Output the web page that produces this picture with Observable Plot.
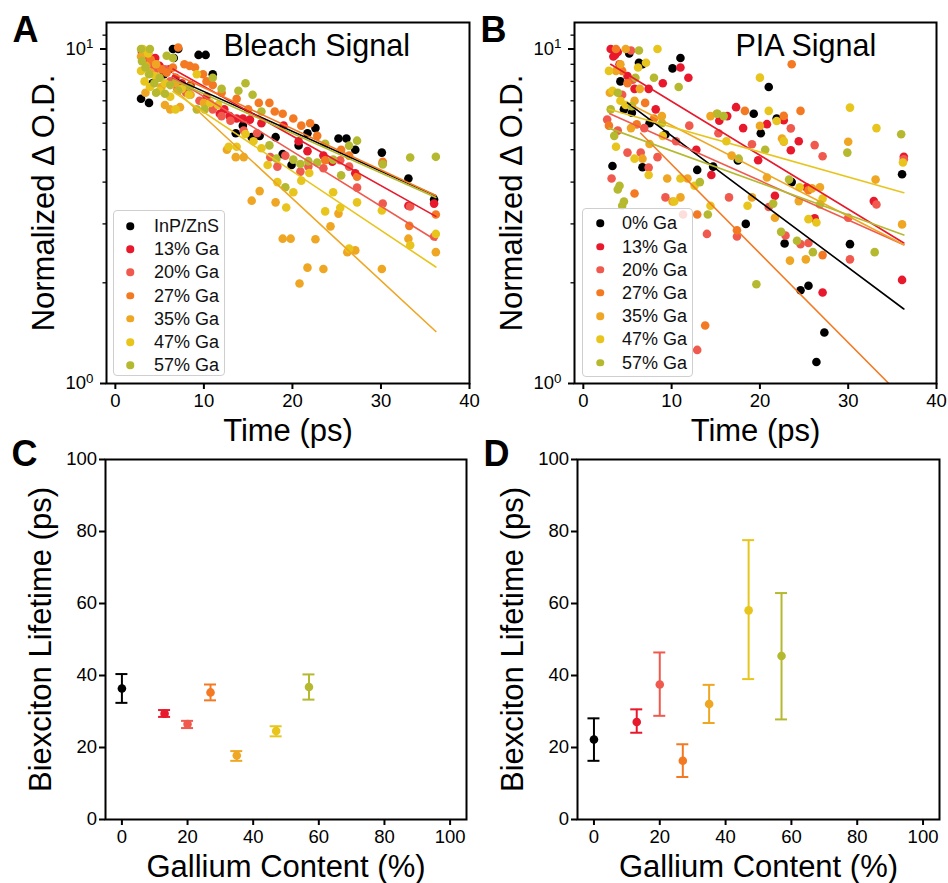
<!DOCTYPE html>
<html>
<head>
<meta charset="utf-8">
<script src="https://cdn.jsdelivr.net/npm/d3@7"></script>
<script src="https://cdn.jsdelivr.net/npm/@observablehq/plot@0.6"></script>
<style>
  html, body { margin: 0; padding: 0; background: #fff; }
  #fig { position: relative; width: 948px; height: 883px; overflow: hidden; background: #fff;
         font-family: "Liberation Sans", Arial, Helvetica, sans-serif; }
  .panel { position: absolute; }
  .legend { position: absolute; background: rgba(255,255,255,0.8); border: 1px solid #cfcfcf;
            border-radius: 4px; box-sizing: border-box; }
  .legend .mk { position: absolute; width: 7.5px; height: 7.5px; border-radius: 50%; transform: translate(-50%, -50%); }
  .legend .lb { position: absolute; font-size: 18px; line-height: 18px; color: #111; transform: translateY(-52%); white-space: nowrap; }
</style>
</head>
<body>
<div id="fig"></div>
<script>
// ---------- categories, colours, tick labels ----------
const namesA = ["InP/ZnS", "13% Ga", "20% Ga", "27% Ga", "35% Ga", "47% Ga", "57% Ga"];
const namesB = ["0% Ga", "13% Ga", "20% Ga", "27% Ga", "35% Ga", "47% Ga", "57% Ga"];
const colors = ["#000000", "#e8192c", "#f05a4e", "#f37a23", "#eea623", "#e8c51d", "#b5b92f"];
const gallium = [0, 13, 20, 27, 35, 47, 57];
const timeTicks = [0, 10, 20, 30, 40];
const logMajor = [1, 10];
const logMinor = [2, 3, 4, 5, 6, 7, 8, 9, 11];
const logLabels = ["10⁰", "10¹"];
const galliumTicks = [0, 20, 40, 60, 80, 100];
const lifetimeTicks = [0, 20, 40, 60, 80, 100];

// ---------- Panel A: bleach signal [time ps, normalized dOD] ----------
const bleach0 = [[2.9,7.1],[3.8,6.9],[4.2,7.9],[5.5,8.4],[6.5,10],[6.6,9.4],[7.1,10],[9.4,9.6],[10.2,9.6],[11,8.4],[13.6,5.6],[14.4,5.9],[15.4,5.45],[16.3,5.5],[18.1,5.45],[18.9,4.85],[19.9,4.5],[20.7,5.15],[21.7,5.6],[22.6,5.8],[25.2,5.4],[26.1,5.4],[27.1,5.0],[30.1,4.9],[33.1,4.1],[36,3.55]];
const bleach13 = [[3.0,9.8],[3.3,9.4],[3.7,9.7],[4.1,9.1],[4.5,9.4],[5.0,8.9],[5.5,8.6],[6.1,8.7],[6.8,8.2],[7.5,7.9],[8.5,7.8],[10.3,7.2],[11.8,6.4],[12.3,6.6],[12.9,6.3],[13.7,6.2],[14.4,6.2],[15.2,6.15],[16.5,6.0],[19.0,5.9],[20.7,5.3],[21.7,4.95],[23.5,4.8],[24.5,4.6],[27.1,4.25],[30.2,4.55],[33.1,3.4],[36,3.45]];
const bleach20 = [[3.1,9.9],[3.5,9.5],[4.0,9.0],[4.4,8.6],[4.9,8.2],[5.6,8.7],[6.2,8.0],[7.0,7.6],[8.0,7.4],[9.5,7.0],[11.0,6.6],[12.0,6.3],[13.0,6.1],[14.5,5.7],[16.0,5.6],[17.5,4.75],[18.3,4.45],[19.2,4.8],[20.9,4.3],[21.8,4.45],[23.5,4.4],[25.4,4.65],[26.4,4.45],[27.3,3.85],[30.2,3.45],[33.3,3.38],[36,2.75]];
const bleach27 = [[3.3,9.7],[4.0,9.3],[4.6,9.0],[5.2,8.7],[5.8,8.5],[6.5,8.8],[7.1,10.1],[7.8,9.0],[8.4,8.9],[9.0,8.8],[9.9,8.4],[10.3,8.0],[11,7.8],[12,7.4],[13.7,7.1],[15,6.6],[16.2,6.9],[17.4,6.9],[18,6.5],[18.9,6.4],[20.1,6.2],[21,5.9],[22,6.0],[22.8,5.5],[23.7,4.65],[25.5,5.0],[26.4,4.8],[27.3,4.15],[30.2,4.6],[33.2,2.96],[36.2,3.2]];
const bleach35 = [[2.9,9.5],[3.4,7.4],[3.5,8.9],[4.0,8.5],[4.6,9.0],[5.2,7.7],[5.6,6.8],[6.2,6.6],[6.8,7.9],[7.3,6.7],[8.5,7.3],[10.0,6.9],[12.6,5.0],[13.6,4.75],[14.5,4.75],[15.4,3.52],[16.3,3.76],[18.1,3.48],[18.9,2.71],[19.8,2.71],[20.8,1.99],[21.7,2.22],[22.6,2.7],[23.5,2.2],[24.3,2.95],[25.2,3.22],[26.2,2.47],[27.1,2.5],[30.1,2.2],[33.1,2.71],[36.2,2.47]];
const bleach47 = [[3.1,10],[3.7,9.7],[2.9,8.6],[3.3,8.0],[3.9,7.7],[4.5,8.3],[5.0,7.5],[5.6,7.9],[6.2,7.2],[6.8,6.6],[7.5,7.6],[8.3,7.3],[9.2,8.4],[10.7,6.9],[11.6,6.8],[12.8,5.1],[13.7,5.1],[14.7,5.57],[15.6,5.3],[16.5,5.05],[17.2,4.5],[18.3,4.0],[19.3,3.36],[20.1,3.73],[21,4.04],[21.9,4.26],[23.7,3.27],[24.6,3.73],[25.4,3.35],[26.4,2.53],[27.3,3.48],[30.1,3.29],[33.3,2.59],[36.2,2.8]];
const bleach57 = [[2.9,10],[3.9,10],[3.0,9.2],[3.4,8.8],[3.8,8.4],[4.4,7.9],[4.6,7.4],[5.0,8.2],[5.6,7.35],[5.8,9.55],[6.2,7.8],[6.5,9.4],[7.1,7.5],[8.4,7.7],[9.2,6.6],[10.1,6.6],[11,8.2],[12,7.6],[13.9,7.5],[14.7,7.9],[15.5,7.3],[16.5,6.5],[17.4,5.15],[18.2,4.7],[19.2,3.86],[20.1,4.67],[20.9,4.53],[21.8,4.62],[22.8,4.58],[23.7,5.21],[24.6,4.67],[25.5,4.19],[26.4,5.14],[27.3,5.32],[30.2,4.52],[33.3,4.74],[36.2,4.76]];
// single-exponential fit lines: start / end points
const bleachFitT0 = [6.5, 6.5, 6.5, 6.5, 6.5, 6.5, 6.5];
const bleachFitV0 = [8.21, 8.71, 8.22, 8.46, 7.66, 7.46, 8.08];
const bleachFitT1 = [36.2, 36.2, 36.2, 36.2, 36.2, 36.2, 36.2];
const bleachFitV1 = [3.64, 3.16, 2.68, 3.65, 1.43, 2.23, 3.6];

// ---------- Panel B: PIA signal ----------
const pia0 = [[3.3,4.47],[4.2,8.0],[4.6,6.6],[5.2,9.7],[5.5,6.45],[6.3,9.1],[6.7,9.0],[6.7,4.43],[7.5,6.0],[9.3,5.55],[10.1,8.75],[11.0,9.4],[12.9,4.35],[14.7,4.45],[17.5,4.64],[18.4,3.0],[19.3,6.4],[20.1,5.6],[21.0,7.7],[21.9,6.2],[22.8,2.62],[23.6,4.0],[24.6,1.9],[25.5,1.96],[26.4,1.16],[27.3,1.42],[30.2,2.61],[36.1,4.22]];
const pia13 = [[3.1,10],[3.4,9.5],[3.6,9.6],[3.9,9.8],[4.1,9.0],[5.0,8.3],[5.8,7.6],[7.4,7.6],[8.2,6.6],[9.0,7.9],[11,8.8],[11.9,8.2],[12.8,5.0],[14.5,4.2],[15.4,6.1],[16.3,6.3],[17.3,6.7],[18.1,5.8],[19.8,4.65],[20.8,5.96],[21.7,3.64],[22.7,6.12],[23.5,4.98],[24.4,5.3],[25.3,3.85],[26.2,3.12],[27.1,1.87],[32.9,3.51],[36.1,2.04],[36.3,4.76]];
const pia20 = [[2.7,6.15],[3.2,4.1],[3.9,5.7],[4.4,7.3],[5.0,4.9],[5.4,9.9],[5.6,8.1],[6.5,4.9],[6.9,5.8],[7.4,4.42],[8.4,4.75],[9.3,3.6],[10.5,5.3],[11.3,3.2],[12.0,5.9],[12.9,1.26],[14.0,2.8],[15.3,5.6],[16.5,3.6],[17.4,2.75],[19.1,5.19],[21.0,3.37],[22.9,2.77],[23.5,5.79],[24.6,2.61],[25.5,2.63],[26.2,5.16],[27.1,4.78],[30.0,3.13],[30.2,2.35],[33.2,3.43],[36.3,4.68]];
const pia27 = [[2.9,5.9],[3.7,10],[4.4,8.6],[5.0,7.9],[5.8,3.7],[6.05,5.95],[7.0,6.9],[8.0,6.2],[12.9,3.2],[13.8,1.49],[17.4,2.87],[18.3,6.53],[22.7,6.31],[23.6,9.0],[24.6,6.53],[25.5,3.78],[27.1,2.42]];
const pia35 = [[3.0,7.4],[3.7,8.6],[4.2,9.0],[4.8,10],[5.4,5.8],[5.8,7.0],[6.4,7.6],[6.7,4.7],[7.5,5.2],[8.9,6.3],[9.5,4.1],[10.1,3.5],[11.0,3.6],[11.8,4.1],[14.4,6.3],[15.1,6.4],[16.8,4.8],[19.1,3.6],[20.0,5.89],[20.8,4.13],[21.7,3.13],[22.5,5.4],[22.7,5.28],[23.4,2.33],[24.4,3.51],[25.2,2.35],[25.9,3.83],[26.8,3.86],[30.0,5.28],[33.1,4.07],[36.1,2.99]];
const pia47 = [[2.9,8.6],[3.3,7.5],[3.7,5.1],[4.2,7.0],[4.8,6.8],[5.8,4.7],[6.2,8.8],[7.1,9.1],[7.4,4.2],[8.4,10],[9.0,5.5],[10.3,3.5],[11.0,4.1],[12.6,3.9],[14.4,3.4],[16.2,5.3],[18.6,3.4],[20.0,8.21],[21.0,6.53],[21.9,6.09],[22.7,5.31],[24.5,3.86],[25.5,3.1],[26.4,3.03],[27.1,3.57],[30.2,6.68],[33.2,5.8],[36.2,4.58]];
const pia57 = [[3.1,6.6],[3.5,5.5],[3.9,7.4],[3.9,3.8],[4.1,3.9],[4.4,3.4],[4.6,3.5],[5.5,6.75],[5.9,8.2],[6.3,9.9],[8.0,8.2],[8.9,6.0],[10.8,7.7],[13.2,4.0],[14.1,3.2],[15.2,6.4],[15.9,6.3],[17.6,4.7],[19.6,1.98],[20.6,5.0],[21.5,3.45],[22.4,2.84],[23.3,4.07],[24.2,2.67],[26.0,2.47],[26.8,3.43],[29.9,4.9],[33.0,2.47],[36.0,5.56]];
const piaFitT0 = [5.0, 3.1, 3.0, 6.5, 5.5, 2.9, 2.9];
const piaFitV0 = [6.9, 9.0, 6.4, 5.6, 6.8, 6.6, 5.8];
const piaFitT1 = [36.3, 36.3, 36.3, 34.6, 36.3, 36.3, 36.3];
const piaFitV1 = [1.67, 2.63, 2.6, 1.0, 2.6, 3.72, 2.78];

// ---------- Panels C / D: biexciton lifetimes (ps) ----------
const bleachLifetime = [36.4, 29.4, 26.5, 35.3, 17.8, 24.6, 36.8];
const bleachLow      = [32.4, 28.5, 25.4, 33.1, 16.3, 23.1, 33.3];
const bleachHigh     = [40.4, 30.4, 27.4, 37.5, 19.0, 25.9, 40.3];
const piaLifetime    = [22.2, 27.1, 37.5, 16.3, 32.1, 58.1, 45.4];
const piaLow         = [16.3, 24.1, 28.8, 11.8, 26.8, 39.0, 27.8];
const piaHigh        = [28.1, 30.6, 46.4, 20.9, 37.4, 77.6, 62.9];

// ---------- helpers ----------
const FONT = '"Liberation Sans", Arial, Helvetica, sans-serif';
const fig = document.getElementById("fig");

function pointRows(list, names) {
  return list.flatMap((pts, i) => pts.map(([t, v]) => ({t, v, s: names[i]})));
}
function fitRows(t0, v0, t1, v1, names) {
  return names.flatMap((s, i) => [{t: t0[i], v: v0[i], s}, {t: t1[i], v: v1[i], s}]);
}
function place(node, left, top) {
  const wrap = document.createElement("div");
  wrap.className = "panel";
  wrap.style.left = left + "px";
  wrap.style.top = top + "px";
  wrap.appendChild(node);
  fig.appendChild(wrap);
}
function superscripts(svg) {
  const NS = "http://www.w3.org/2000/svg";
  svg.querySelectorAll("text").forEach(t => {
    const target = t.querySelector("tspan") || t;
    const s = target.textContent;
    if (s === "10⁰" || s === "10¹") {
      const sup = s === "10⁰" ? "0" : "1";
      while (target.firstChild) target.removeChild(target.firstChild);
      target.appendChild(document.createTextNode("10"));
      const ts = document.createElementNS(NS, "tspan");
      ts.setAttribute("dy", "-0.5em");
      ts.setAttribute("font-size", "0.72em");
      ts.textContent = sup;
      target.appendChild(ts);
    }
  });
}
function legend(names, left, top, width, height, markX, textX, row0, step) {
  const box = document.createElement("div");
  box.className = "legend";
  Object.assign(box.style, {left: left + "px", top: top + "px", width: width + "px", height: height + "px"});
  names.forEach((n, i) => {
    const y = row0 + step * i;
    const mk = document.createElement("span");
    mk.className = "mk";
    Object.assign(mk.style, {left: markX + "px", top: y + "px", background: colors[i]});
    const lb = document.createElement("span");
    lb.className = "lb";
    Object.assign(lb.style, {left: textX + "px", top: y + "px"});
    lb.textContent = n;
    box.appendChild(mk);
    box.appendChild(lb);
  });
  fig.appendChild(box);
}

function decayPanel({series, names, t0, v0, t1, v1, title, titleDx, letter, marginLeft, marginRight}) {
  const svg = Plot.plot({
    width: 474, height: 440,
    marginLeft, marginRight, marginTop: 22, marginBottom: 57,
    style: {fontFamily: FONT, fontSize: "18.5px", color: "black", background: "transparent", overflow: "visible"},
    x: {domain: [-1, 40]},
    y: {type: "log", domain: [1, 12]},
    color: {domain: names, range: colors},
    marks: [
      Plot.dot(pointRows(series, names), {x: "t", y: "v", fill: "s", r: 4.3}),
      Plot.line(fitRows(t0, v0, t1, v1, names), {x: "t", y: "v", z: "s", stroke: "s", strokeWidth: 1.6, clip: true}),
      Plot.axisX({ticks: timeTicks, tickSize: 6, tickPadding: 4, strokeWidth: 2, label: null, tickFormat: d => String(d)}),
      Plot.axisY({ticks: logMinor, tickSize: 3.5, strokeWidth: 1.3, label: null, tickFormat: () => ""}),
      Plot.axisY({ticks: logMajor, tickSize: 6, tickPadding: 7, strokeWidth: 2, label: null,
                  tickFormat: d => logLabels[logMajor.indexOf(d)]}),
      Plot.frame({stroke: "black", strokeWidth: 2}),
      Plot.text([title], {text: d => d, frameAnchor: "top-left", dx: titleDx, dy: 33, textAnchor: "start", lineAnchor: "bottom", fontSize: 30.5}),
      Plot.text([letter], {text: d => d, frameAnchor: "top-left", dx: -94, dy: 19, textAnchor: "start", lineAnchor: "bottom", fontSize: 36, fontWeight: "bold"}),
      Plot.text(["Time (ps)"], {text: d => d, frameAnchor: "bottom", dy: 57, textAnchor: "middle", lineAnchor: "bottom", fontSize: 31}),
      Plot.text(["Normalized Δ O.D."], {text: d => d, frameAnchor: "left", dx: -62.5, rotate: -90, textAnchor: "middle", lineAnchor: "middle", fontSize: 31})
    ]
  });
  superscripts(svg);
  return svg;
}

function lifetimePanel({values, low, high, letter, marginLeft, marginRight}) {
  const rows = gallium.map((g, i) => ({g, v: values[i], lo: low[i], hi: high[i], s: namesA[i]}));
  return Plot.plot({
    width: 474, height: 443,
    marginLeft, marginRight, marginTop: 19, marginBottom: 64,
    style: {fontFamily: FONT, fontSize: "18.5px", color: "black", background: "transparent", overflow: "visible"},
    x: {domain: [-5, 105]},
    y: {domain: [0, 100]},
    color: {domain: namesA, range: colors},
    marks: [
      Plot.ruleX(rows, {x: "g", y1: "lo", y2: "hi", stroke: "s", strokeWidth: 2}),
      Plot.ruleY(rows, {y: "lo", x1: "g", x2: "g", insetLeft: -6, insetRight: -6, stroke: "s", strokeWidth: 2}),
      Plot.ruleY(rows, {y: "hi", x1: "g", x2: "g", insetLeft: -6, insetRight: -6, stroke: "s", strokeWidth: 2}),
      Plot.dot(rows, {x: "g", y: "v", fill: "s", r: 4.3}),
      Plot.axisX({ticks: galliumTicks, tickSize: 6, tickPadding: 4, strokeWidth: 2, label: null, tickFormat: d => String(d)}),
      Plot.axisY({ticks: lifetimeTicks, tickSize: 6, tickPadding: 2.5, strokeWidth: 2, label: null, tickFormat: d => String(d)}),
      Plot.frame({stroke: "black", strokeWidth: 2}),
      Plot.text([letter], {text: d => d, frameAnchor: "top-left", dx: -94, dy: 6, textAnchor: "start", lineAnchor: "bottom", fontSize: 36, fontWeight: "bold"}),
      Plot.text(["Gallium Content (%)"], {text: d => d, frameAnchor: "bottom", dy: 57, textAnchor: "middle", lineAnchor: "bottom", fontSize: 31}),
      Plot.text(["Biexciton Lifetime (ps)"], {text: d => d, frameAnchor: "left", dx: -64, rotate: -90, textAnchor: "middle", lineAnchor: "middle", fontSize: 31})
    ]
  });
}

// ---------- build ----------
place(decayPanel({
  series: [bleach0, bleach13, bleach20, bleach27, bleach35, bleach47, bleach57], names: namesA,
  t0: bleachFitT0, v0: bleachFitV0, t1: bleachFitT1, v1: bleachFitV1,
  title: "Bleach Signal", titleDx: 117, letter: "A", marginLeft: 106, marginRight: 5
}), 0, 0);
place(decayPanel({
  series: [pia0, pia13, pia20, pia27, pia35, pia47, pia57], names: namesB,
  t0: piaFitT0, v0: piaFitV0, t1: piaFitT1, v1: piaFitV1,
  title: "PIA Signal", titleDx: 161, letter: "B", marginLeft: 100, marginRight: 12
}), 474, 0);
place(lifetimePanel({values: bleachLifetime, low: bleachLow, high: bleachHigh, letter: "C", marginLeft: 105, marginRight: 8}), 0, 440);
place(lifetimePanel({values: piaLifetime, low: piaLow, high: piaHigh, letter: "D", marginLeft: 103, marginRight: 9}), 474, 440);

legend(namesA, 113, 210, 112, 166, 16, 40, 15, 23.2);
legend(namesB, 582, 208, 111, 169, 17, 39, 14.3, 23.2);
</script>
</body>
</html>
